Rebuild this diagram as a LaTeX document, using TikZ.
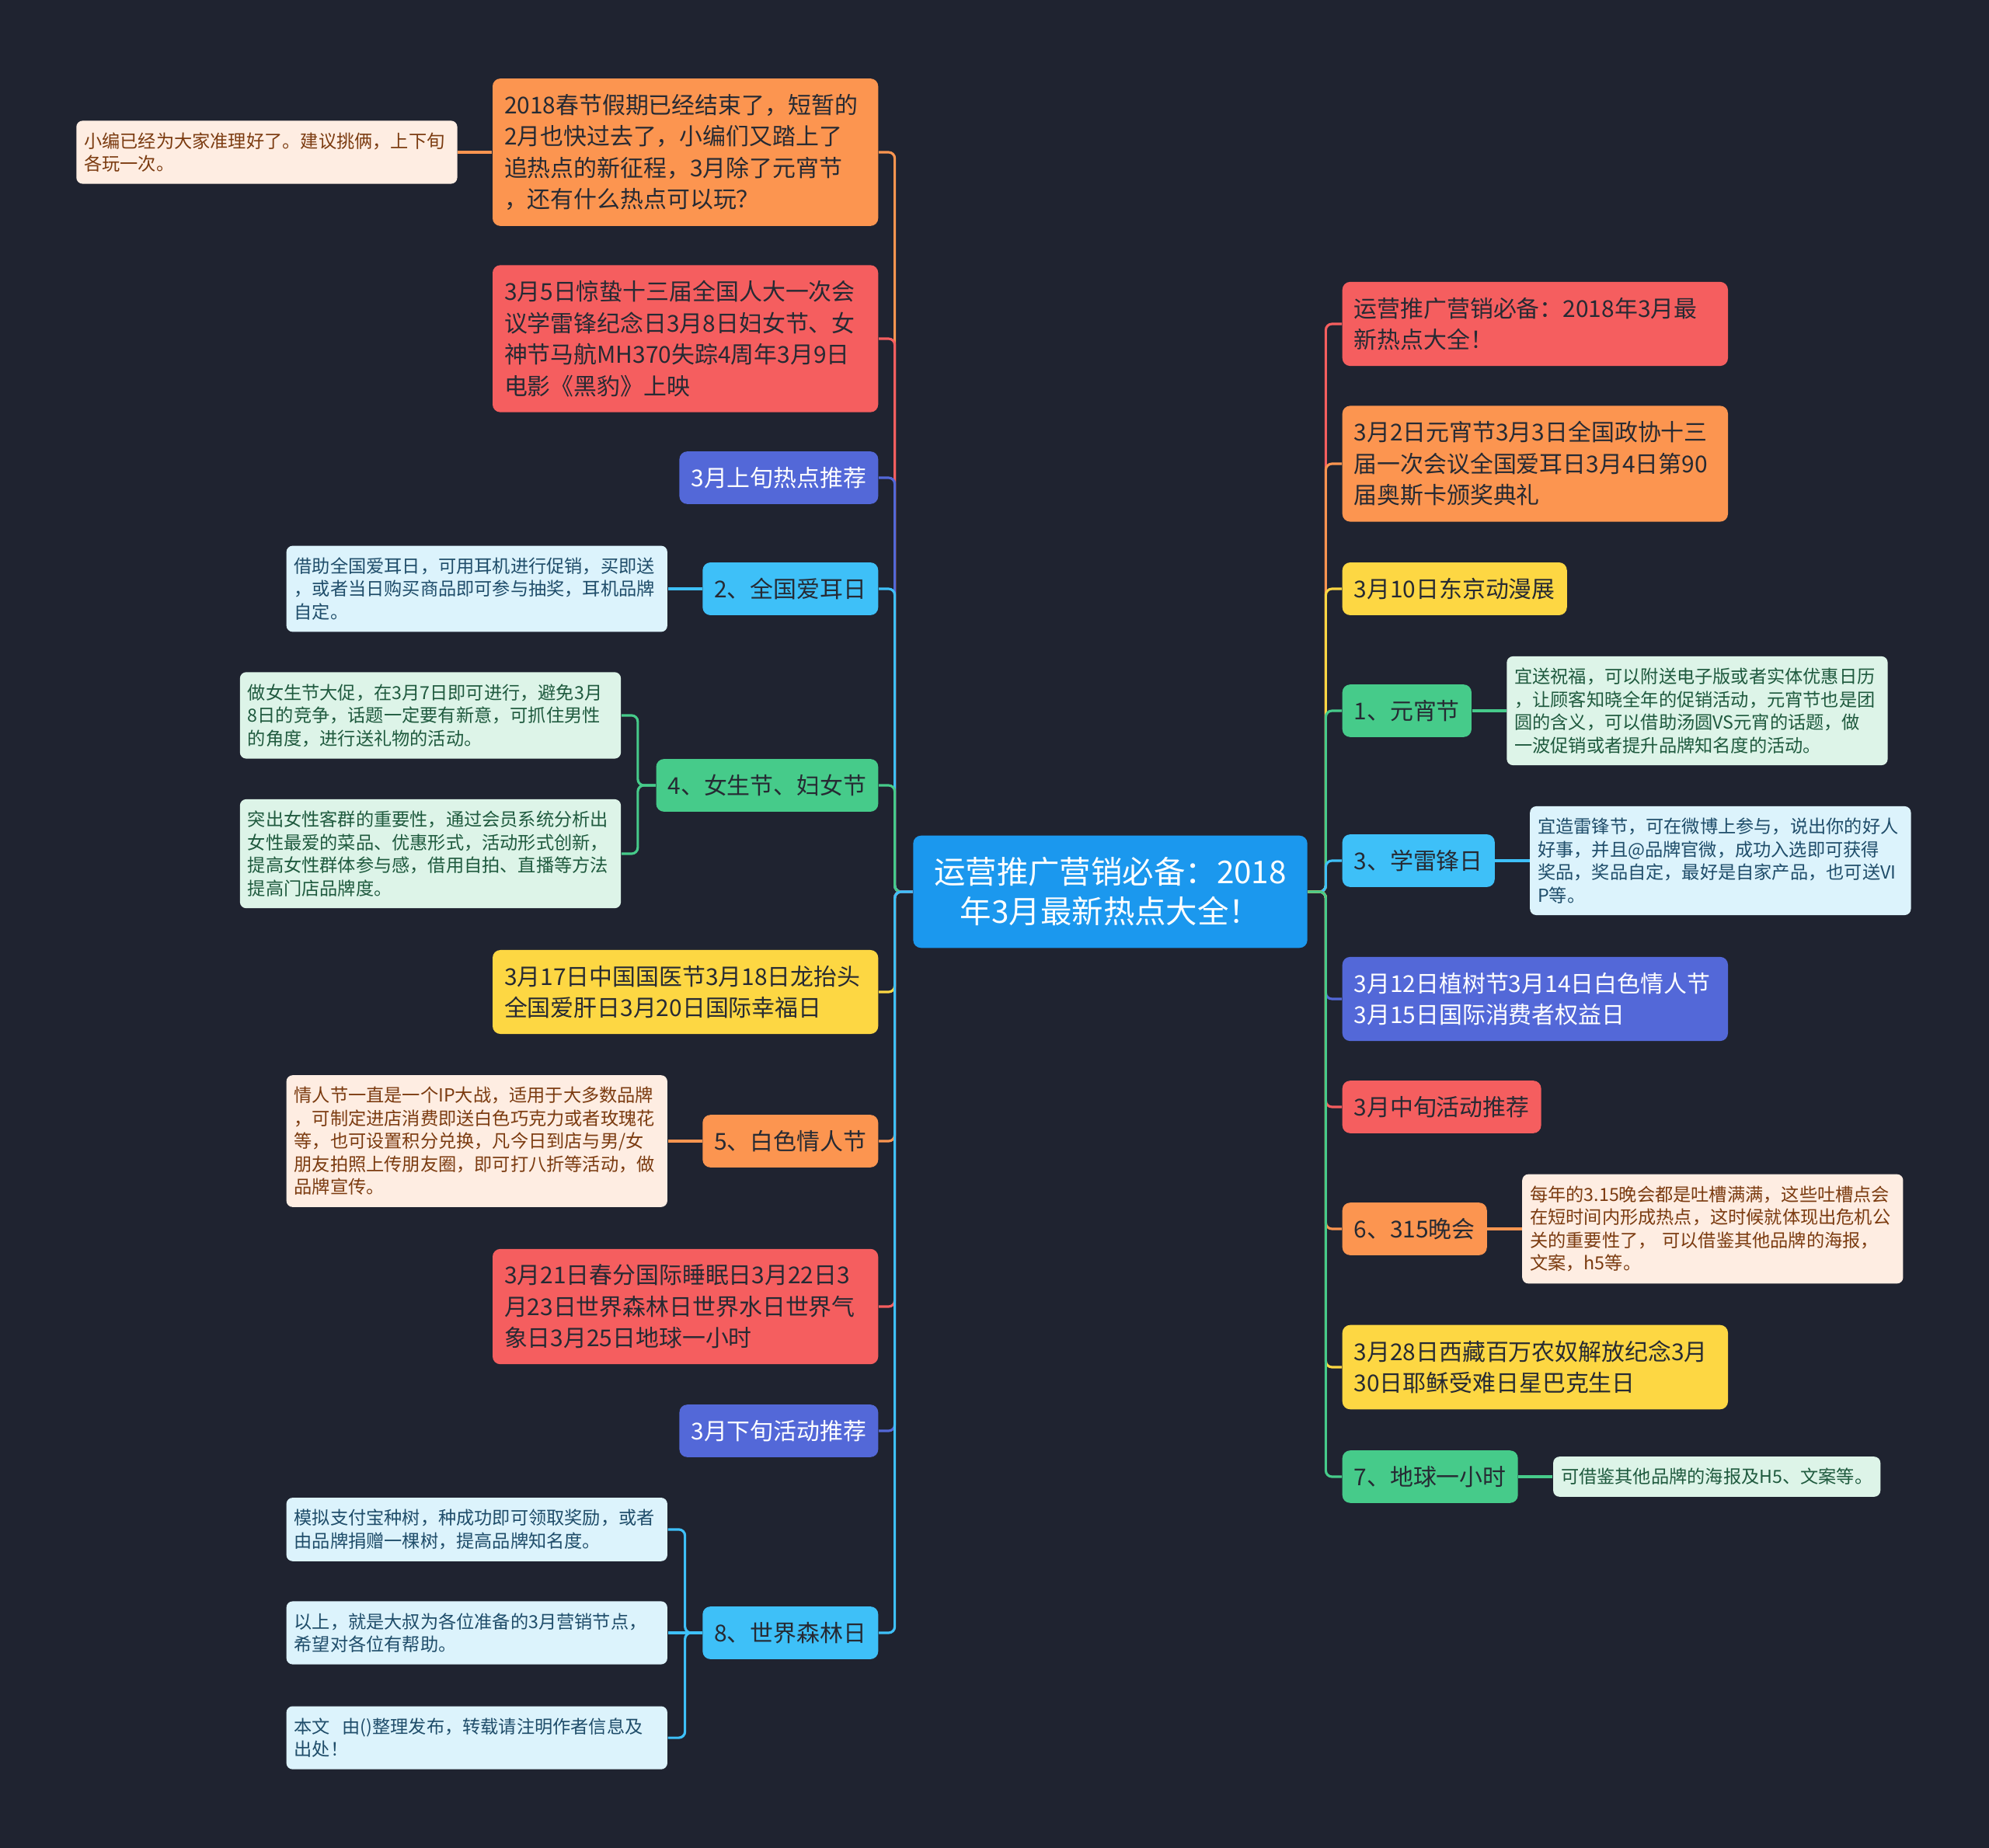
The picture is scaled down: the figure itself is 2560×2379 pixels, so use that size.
\documentclass[tikz,border=0pt]{standalone}
\usepackage{fontspec}
\setmainfont{Noto Sans CJK SC}
\usetikzlibrary{positioning}

\definecolor{bg}{HTML}{1F2330}
\definecolor{ink}{HTML}{262A33}
\definecolor{croot}{HTML}{1B98EE}
\definecolor{corange}{HTML}{FC9550}
\definecolor{cred}{HTML}{F55E5F}
\definecolor{cviolet}{HTML}{5368D8}
\definecolor{csky}{HTML}{3EC0F8}
\definecolor{cgreen}{HTML}{46CB8A}
\definecolor{cyellow}{HTML}{FDD743}
\definecolor{npeach}{HTML}{FEEDE2}
\definecolor{tpeach}{HTML}{7B3B10}
\definecolor{nblue}{HTML}{DCF3FC}
\definecolor{tblue}{HTML}{1F4D6A}
\definecolor{ngreen}{HTML}{DDF4E8}
\definecolor{tgreen}{HTML}{1F5A3E}

\begin{document}
\begin{tikzpicture}[
    x=0.01cm, y=-0.01cm,
    node distance=0.44cm,
    rootbox/.style={rectangle, rounded corners=0.1cm, fill=croot, text=white, align=center, minimum width=5.07cm, inner ysep=0.28cm, font=\fontsize{11.5}{14.5}\selectfont},
    topic/.style={rectangle, rounded corners=0.1cm, fill=#1, text=ink, inner xsep=0.15cm, inner ysep=0.2cm, font=\fontsize{8.5}{11.5}\selectfont},
    para/.style={text width=4.66cm, align=left},
    memo/.style 2 args={rectangle, rounded corners=0.08cm, fill=#1, text=#2, inner xsep=0.1cm, inner ysep=0.15cm, font=\fontsize{6.6}{8.4}\selectfont},
    memopara/.style={text width=4.7cm, align=left},
    link/.style={draw=#1, line width=0.9pt, rounded corners=0.08cm}
]
\fill[bg] (0,0) rectangle (2560,2379);

% centre
\node[rootbox] (root) at (1429,1148) {运营推广营销必备：2018\\年3月最新热点大全！};

% left branches
\node[topic=corange, para, anchor=east] (l1) at (1131,196) {2018春节假期已经结束了，短暂的\\2月也快过去了，小编们又踏上了\\追热点的新征程，3月除了元宵节\\，还有什么热点可以玩？};
\node[topic=cred, para, anchor=east] (l2) at (1131,436) {3月5日惊蛰十三届全国人大一次会\\议学雷锋纪念日3月8日妇女节、女\\神节马航MH370失踪4周年3月9日\\电影《黑豹》上映};
\node[topic=cviolet, text=white, anchor=east] (l3) at (1131,615) {3月上旬热点推荐};
\node[topic=csky, anchor=east] (l4) at (1131,758) {2、全国爱耳日};
\node[topic=cgreen, anchor=east] (l5) at (1131,1011) {4、女生节、妇女节};
\node[topic=cyellow, para, anchor=east] (l6) at (1131,1277) {3月17日中国国医节3月18日龙抬头\\全国爱肝日3月20日国际幸福日};
\node[topic=corange, anchor=east] (l7) at (1131,1469) {5、白色情人节};
\node[topic=cred, para, anchor=east] (l8) at (1131,1682) {3月21日春分国际睡眠日3月22日3\\月23日世界森林日世界水日世界气\\象日3月25日地球一小时};
\node[topic=cviolet, text=white, anchor=east] (l9) at (1131,1842) {3月下旬活动推荐};
\node[topic=csky, anchor=east] (l10) at (1131,2102) {8、世界森林日};

% right branches
\node[topic=cred, para, anchor=west] (r1) at (1727,417) {运营推广营销必备：2018年3月最\\新热点大全！};
\node[topic=corange, para, anchor=west] (r2) at (1727,597) {3月2日元宵节3月3日全国政协十三\\届一次会议全国爱耳日3月4日第90\\届奥斯卡颁奖典礼};
\node[topic=cyellow, anchor=west] (r3) at (1727,758) {3月10日东京动漫展};
\node[topic=cgreen, anchor=west] (r4) at (1727,915) {1、元宵节};
\node[topic=csky, anchor=west] (r5) at (1727,1108) {3、学雷锋日};
\node[topic=cviolet, text=white, para, anchor=west] (r6) at (1727,1286) {3月12日植树节3月14日白色情人节\\3月15日国际消费者权益日};
\node[topic=cred, anchor=west] (r7) at (1727,1425) {3月中旬活动推荐};
\node[topic=corange, anchor=west] (r8) at (1727,1582) {6、315晚会};
\node[topic=cyellow, para, anchor=west] (r9) at (1727,1760) {3月28日西藏百万农奴解放纪念3月\\30日耶稣受难日星巴克生日};
\node[topic=cgreen, anchor=west] (r10) at (1727,1901) {7、地球一小时};

% notes
\node[memo={npeach}{tpeach}, memopara, left=of l1] (n1) {小编已经为大家准理好了。建议挑俩，上下旬\\各玩一次。};
\node[memo={nblue}{tblue}, memopara, left=of l4] (n4) {借助全国爱耳日，可用耳机进行促销，买即送\\，或者当日购买商品即可参与抽奖，耳机品牌\\自定。};
\node[memo={ngreen}{tgreen}, memopara, left=of l5, yshift=0.9cm] (n5a) {做女生节大促，在3月7日即可进行，避免3月\\8日的竞争，话题一定要有新意，可抓住男性\\的角度，进行送礼物的活动。};
\node[memo={ngreen}{tgreen}, memopara, left=of l5, yshift=-0.88cm] (n5b) {突出女性客群的重要性，通过会员系统分析出\\女性最爱的菜品、优惠形式，活动形式创新，\\提高女性群体参与感，借用自拍、直播等方法\\提高门店品牌度。};
\node[memo={npeach}{tpeach}, memopara, left=of l7] (n7) {情人节一直是一个IP大战，适用于大多数品牌\\，可制定进店消费即送白色巧克力或者玫瑰花\\等，也可设置积分兑换，凡今日到店与男/女\\朋友拍照上传朋友圈，即可打八折等活动，做\\品牌宣传。};
\node[memo={nblue}{tblue}, memopara, left=of l10, yshift=1.33cm] (n10a) {模拟支付宝种树，种成功即可领取奖励，或者\\由品牌捐赠一棵树，提高品牌知名度。};
\node[memo={nblue}{tblue}, memopara, left=of l10] (n10b) {以上，就是大叔为各位准备的3月营销节点，\\希望对各位有帮助。};
\node[memo={nblue}{tblue}, memopara, left=of l10, yshift=-1.35cm] (n10c) {本文\ \ 由()整理发布，转载请注明作者信息及\\出处！};
\node[memo={ngreen}{tgreen}, memopara, right=of r4] (nr4) {宜送祝福，可以附送电子版或者实体优惠日历\\，让顾客知晓全年的促销活动，元宵节也是团\\圆的含义，可以借助汤圆VS元宵的话题，做\\一波促销或者提升品牌知名度的活动。};
\node[memo={nblue}{tblue}, memopara, right=of r5] (nr5) {宜造雷锋节，可在微博上参与，说出你的好人\\好事，并且@品牌官微，成功入选即可获得\\奖品，奖品自定，最好是自家产品，也可送VI\\P等。};
\node[memo={npeach}{tpeach}, memopara, right=of r8] (nr8) {每年的3.15晚会都是吐槽满满，这些吐槽点会\\在短时间内形成热点，这时候就体现出危机公\\关的重要性了， 可以借鉴其他品牌的海报，\\文案，h5等。};
\node[memo={ngreen}{tgreen}, right=of r10] (nr10) {可借鉴其他品牌的海报及H5、文案等。};

% connectors, top to bottom
\draw[link=corange] (root.west) -- ++(-23,0) |- (l1.east);
\draw[link=cred] (root.west) -- ++(-23,0) |- (l2.east);
\draw[link=cviolet] (root.west) -- ++(-23,0) |- (l3.east);
\draw[link=csky] (root.west) -- ++(-23,0) |- (l4.east);
\draw[link=cgreen] (root.west) -- ++(-23,0) |- (l5.east);
\draw[link=cyellow] (root.west) -- ++(-23,0) |- (l6.east);
\draw[link=corange] (root.west) -- ++(-23,0) |- (l7.east);
\draw[link=cred] (root.west) -- ++(-23,0) |- (l8.east);
\draw[link=cviolet] (root.west) -- ++(-23,0) |- (l9.east);
\draw[link=csky] (root.west) -- ++(-23,0) |- (l10.east);

\draw[link=cred] (root.east) -- ++(23,0) |- (r1.west);
\draw[link=corange] (root.east) -- ++(23,0) |- (r2.west);
\draw[link=cyellow] (root.east) -- ++(23,0) |- (r3.west);
\draw[link=cgreen] (root.east) -- ++(23,0) |- (r4.west);
\draw[link=csky] (root.east) -- ++(23,0) |- (r5.west);
\draw[link=cviolet] (root.east) -- ++(23,0) |- (r6.west);
\draw[link=cred] (root.east) -- ++(23,0) |- (r7.west);
\draw[link=corange] (root.east) -- ++(23,0) |- (r8.west);
\draw[link=cyellow] (root.east) -- ++(23,0) |- (r9.west);
\draw[link=cgreen] (root.east) -- ++(23,0) |- (r10.west);

% note links
\draw[link=corange] (l1.west) -- (n1.east);
\draw[link=csky] (l4.west) -- (n4.east);
\draw[link=cgreen] (l5.west) -- ++(-23,0) |- (n5a.east);
\draw[link=cgreen] (l5.west) -- ++(-23,0) |- (n5b.east);
\draw[link=corange] (l7.west) -- (n7.east);
\draw[link=csky] (l10.west) -- ++(-22,0) |- (n10a.east);
\draw[link=csky] (l10.west) -- (n10b.east);
\draw[link=csky] (l10.west) -- ++(-22,0) |- (n10c.east);
\draw[link=cgreen] (r4.east) -- (nr4.west);
\draw[link=csky] (r5.east) -- (nr5.west);
\draw[link=corange] (r8.east) -- (nr8.west);
\draw[link=cgreen] (r10.east) -- (nr10.west);
\end{tikzpicture}
\end{document}
